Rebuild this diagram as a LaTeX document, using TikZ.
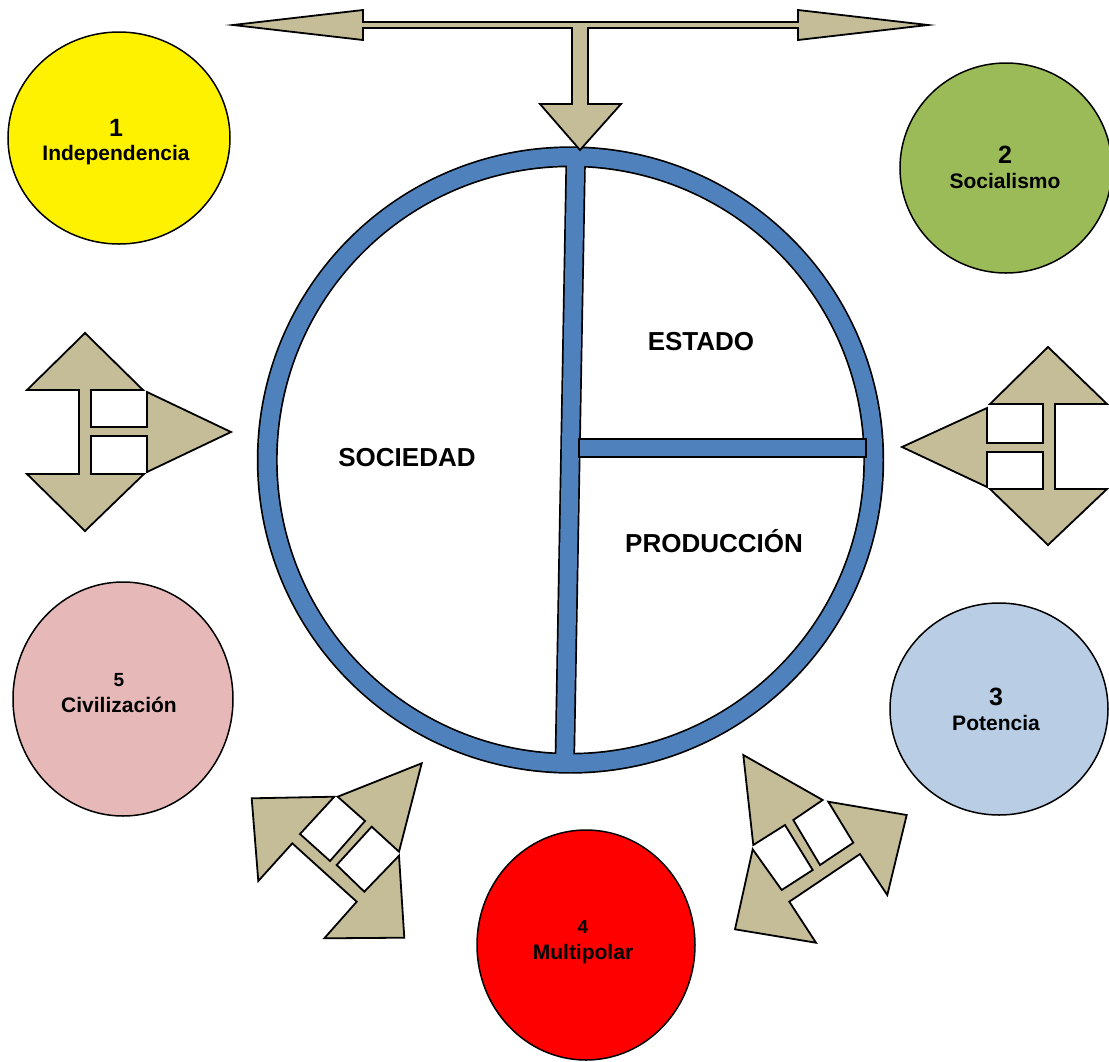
\documentclass[tikz,border=0pt]{standalone}
\usepackage{fontspec}
\setmainfont{Liberation Sans}
\usetikzlibrary{shapes.geometric}
\definecolor{arrowtan}{HTML}{C4BD97}
\definecolor{ringblue}{HTML}{4F81BD}
\definecolor{discgreen}{HTML}{9BBB59}
\definecolor{discblue}{HTML}{B9CDE5}
\definecolor{discpink}{HTML}{E6B9B8}
\begin{document}
\begin{tikzpicture}[x=1pt,y=-1pt,
	flecha/.style={fill=arrowtan,draw=black,line width=1.8pt,line join=miter},
	disco/.style={ellipse,draw=black,line width=1.5pt,inner sep=0pt},
	sector/.style={anchor=base,font=\bfseries\fontsize{26}{26}\selectfont},
	numero/.style={anchor=base,font=\bfseries\fontsize{25}{25}\selectfont},
	numchico/.style={anchor=base,font=\bfseries\fontsize{19}{19}\selectfont},
	rotulo/.style={anchor=base,font=\bfseries\fontsize{21}{21}\selectfont}]
	\useasboundingbox (0,0) rectangle (1109,1061);

	\path[draw=black,line width=3.4pt] (570.5,460) circle[radius=312] (570.5,460) circle[radius=294.5]
		(567.3,155) -- (584.3,155) -- (573.2,765) -- (556.2,765) -- cycle;
	\fill[ringblue,even odd rule] (570.5,460) circle[radius=312] (570.5,460) circle[radius=294.5];
	\fill[ringblue] (567.3,155) -- (584.3,155) -- (573.2,765) -- (556.2,765) -- cycle;
	\filldraw[fill=ringblue,draw=black,line width=1.7pt] (579,439) rectangle (866,457);

	\node[sector] (sociedad) at (407,466) {SOCIEDAD};
	\node[sector] (estado) at (701,350) {ESTADO};
	\node[sector] (produccion) at (714,552) {PRODUCCIÓN};

	\draw[flecha] (233,25) -- (363,10) -- (363,22) -- (798,22) -- (798,10) -- (928,25) -- (798,40) -- (798,28)
		-- (588,28) -- (588,104) -- (621,104) -- (580,150) -- (540,104) -- (572,104) -- (572,28) -- (363,28) -- (363,40) -- cycle;

	\draw[flecha] (85,333) -- (143,390) -- (91,390) -- (91,427) -- (147,427) -- (147,392) -- (231,432) -- (147,472) -- (147,436)
		-- (91,436) -- (91,474) -- (144,474) -- (85,531) -- (27,474) -- (79,474) -- (79,390) -- (27,390) -- cycle;

	\draw[flecha] (1048,347) -- (1107,404) -- (1055,404) -- (1055,489) -- (1107,489) -- (1048,545) -- (990,489) -- (1043,489) -- (1043,452)
		-- (987,452) -- (987,487) -- (902,447) -- (987,408) -- (987,443) -- (1043,443) -- (1043,404) -- (990,404) -- cycle;

	\draw[flecha] (251.7,798.3) -- (334.3,796.7) -- (300,834) -- (330,861) -- (365,821) -- (337.7,796.7) -- (421.7,763.3) -- (399,851.7)
		-- (371.7,826.7) -- (336.7,865) -- (364.3,891.7) -- (399,855.7) -- (404.3,937.7) -- (324.3,938.3) -- (356.7,901.7) -- (292.3,843.3) -- (258.3,881) -- cycle;

	\draw[flecha] (743.3,755) -- (822.7,800) -- (793.3,820) -- (820,865) -- (853.3,842.7) -- (828.3,801.7) -- (906.7,815) -- (887.3,895)
		-- (860,854) -- (789.3,901.7) -- (816,942.7) -- (735,929.3) -- (752.7,849.3) -- (781.7,890) -- (812.7,870) -- (785,825) -- (753.3,845) -- cycle;

	\node[disco,fill=yellow,minimum width=222pt,minimum height=212pt] (independencia) at (119,138) {};
	\node[disco,fill=discgreen,minimum width=212pt,minimum height=210pt] (socialismo) at (1006,168) {};
	\node[disco,fill=discblue,minimum width=218pt,minimum height=212pt] (potencia) at (999,709) {};
	\node[disco,fill=red,minimum width=218pt,minimum height=230pt] (multipolar) at (586,945) {};
	\node[disco,fill=discpink,minimum width=220pt,minimum height=234pt] (civilizacion) at (123,699) {};

	\node[numero] (n1) at (116,136) {1};
	\node[rotulo] (t1) at (116,160) {Independencia};
	\node[numero] (n2) at (1005,163) {2};
	\node[rotulo] (t2) at (1005,188) {Socialismo};
	\node[numero] (n3) at (996,705) {3};
	\node[rotulo] (t3) at (996,730) {Potencia};
	\node[numchico] (n4) at (583,933) {4};
	\node[rotulo] (t4) at (583,959) {Multipolar};
	\node[numchico] (n5) at (119,686) {5};
	\node[rotulo] (t5) at (119,712) {Civilización};
\end{tikzpicture}
\end{document}
